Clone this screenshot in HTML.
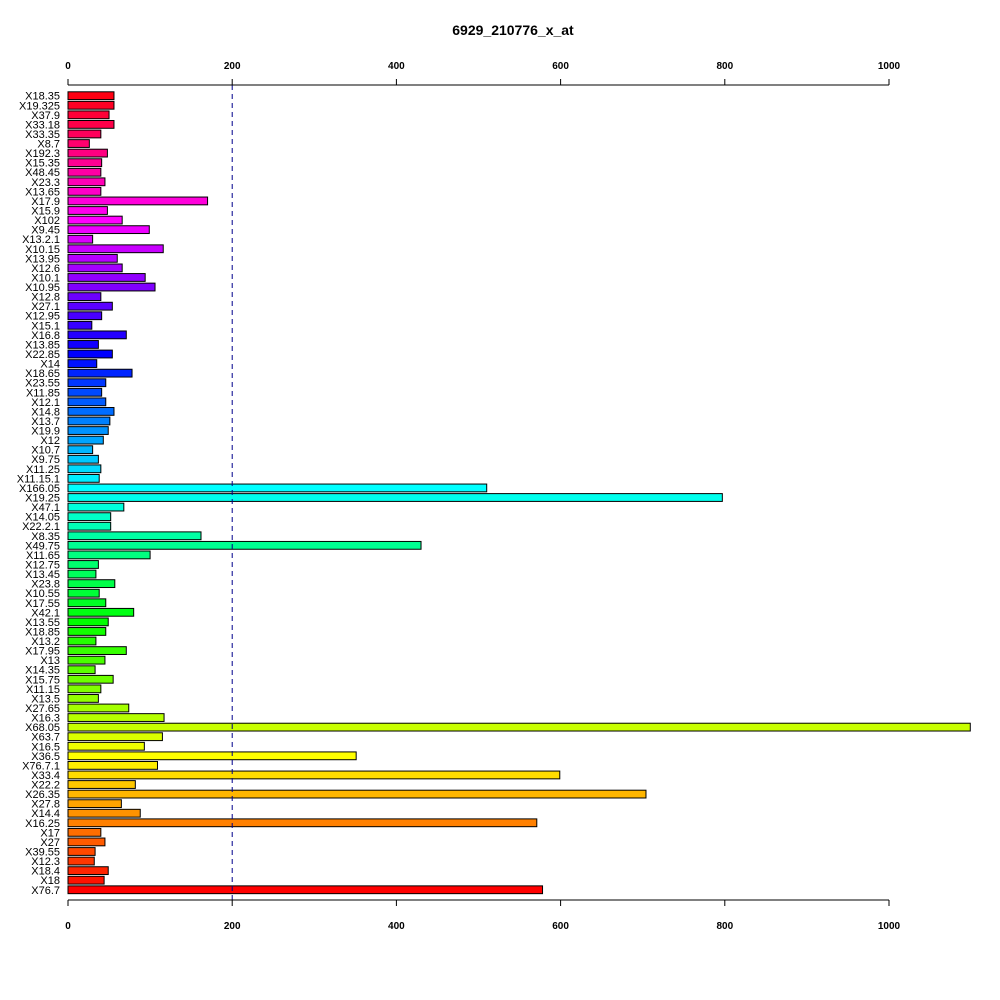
<!DOCTYPE html>
<html><head><meta charset="utf-8"><style>
html,body{margin:0;padding:0;background:#fff;}
svg{display:block;font-family:"Liberation Sans",sans-serif;}
</style></head><body>
<svg id="chart" width="1000" height="1000" viewBox="0 0 1000 1000">
<rect width="1000" height="1000" fill="#fff"/>
<text x="513" y="35" text-anchor="middle" font-size="14" font-weight="bold">6929_210776_x_at</text>
<g id="bars"></g><g id="axes"></g>
</svg>
<script>
const categories=["X18.35","X19.325","X37.9","X33.18","X33.35","X8.7","X192.3","X15.35","X48.45","X23.3","X13.65","X17.9","X15.9","X102","X9.45","X13.2.1","X10.15","X13.95","X12.6","X10.1","X10.95","X12.8","X27.1","X12.95","X15.1","X16.8","X13.85","X22.85","X14","X18.65","X23.55","X11.85","X12.1","X14.8","X13.7","X19.9","X12","X10.7","X9.75","X11.25","X11.15.1","X166.05","X19.25","X47.1","X14.05","X22.2.1","X8.35","X49.75","X11.65","X12.75","X13.45","X23.8","X10.55","X17.55","X42.1","X13.55","X18.85","X13.2","X17.95","X13","X14.35","X15.75","X11.15","X13.5","X27.65","X16.3","X68.05","X63.7","X16.5","X36.5","X76.7.1","X33.4","X22.2","X26.35","X27.8","X14.4","X16.25","X17","X27","X39.55","X12.3","X18.4","X18","X76.7"];
const values=[56,56,50,56,40,26,48,41,40,45,40,170,48,66,99,30,116,60,66,94,106,40,54,41,29,71,37,54,35,78,46,41,46,56,51,49,43,30,37,40,38,510,797,68,52,52,162,430,100,37,34,57,38,46,80,49,46,34,71,45,33,55,40,37,74,117,1099,115,93,351,109,599,82,704,65,88,571,40,45,33,32,49,44,578];
const ticks=[0,200,400,600,800,1000];
const refLine=200;
const NS="http://www.w3.org/2000/svg";
const x0=68,sc=0.821,yTop=91.8,pitch=9.567,bh=7.8;
const xs=v=>x0+v*sc;
const yb=i=>yTop+i*pitch;
const bars=document.getElementById('bars'),axes=document.getElementById('axes');
function mk(p,t,a){const e=document.createElementNS(NS,t);for(const k in a)e.setAttribute(k,a[k]);p.appendChild(e);return e;}
const n=categories.length;
categories.forEach((c,i)=>{
 const hue=((n-1-i)*360/n);
 const r=mk(bars,'rect',{x:x0,y:yb(i),width:values[i]*sc,height:bh,fill:`hsl(${hue},100%,50%)`,stroke:'#000','stroke-width':1});
 
 
 const t=mk(bars,'text',{x:x0-8,y:yb(i)+bh/2+4,'text-anchor':'end','font-size':11});
 t.textContent=c;
 
 
});
const rl=mk(axes,'line',{x1:xs(refLine),x2:xs(refLine),y1:85,y2:900,stroke:'#00008b','stroke-dasharray':'5,4','stroke-width':1});


[[85,-6,69],[900,6,929]].forEach(([y,d,ty],k)=>{
 const l=mk(axes,'line',{x1:xs(ticks[0]),x2:xs(ticks[ticks.length-1]),y1:y,y2:y,stroke:'#000'});
 
 
 ticks.forEach(v=>{
  mk(axes,'line',{x1:xs(v),x2:xs(v),y1:y,y2:y+d,stroke:'#000'});
  const t=mk(axes,'text',{x:xs(v),y:ty,'text-anchor':'middle','font-size':10,'font-weight':'bold'});
  t.textContent=v;
  
  
 });
});
</script>
</body></html>
